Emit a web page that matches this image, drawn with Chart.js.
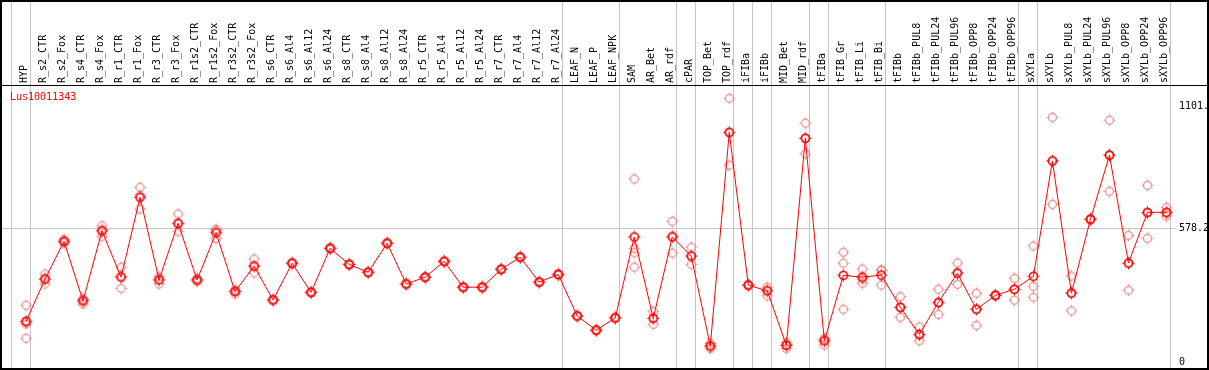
<!DOCTYPE html>
<html>
<head>
<meta charset="utf-8">
<script src="https://cdn.jsdelivr.net/npm/chart.js@4/dist/chart.umd.min.js"></script>
<style>
  html, body { margin: 0; padding: 0; background: #fff; }
  #chart { display: block; }
</style>
</head>
<body>
<canvas id="chart" width="1209" height="370"></canvas>
<script>
const categories = [
  'HYP', 'R_s2_CTR', 'R_s2_Fox', 'R_s4_CTR', 'R_s4_Fox', 'R_r1_CTR', 'R_r1_Fox', 'R_r3_CTR', 'R_r3_Fox',
  'R_r1s2_CTR', 'R_r1s2_Fox', 'R_r3s2_CTR', 'R_r3s2_Fox', 'R_s6_CTR', 'R_s6_Al4', 'R_s6_Al12', 'R_s6_Al24',
  'R_s8_CTR', 'R_s8_Al4', 'R_s8_Al12', 'R_s8_Al24', 'R_r5_CTR', 'R_r5_Al4', 'R_r5_Al12', 'R_r5_Al24',
  'R_r7_CTR', 'R_r7_Al4', 'R_r7_Al12', 'R_r7_Al24', 'LEAF_N', 'LEAF_P', 'LEAF_NPK', 'SAM', 'AR_Bet', 'AR_rdf',
  'cPAR', 'TOP_Bet', 'TOP_rdf', 'iFIBa', 'iFIBb', 'MID_Bet', 'MID_rdf', 'tFIBa', 'tFIB_Gr', 'tFIB_Li', 'tFIB_Bi',
  'tFIBb', 'tFIBb_PUL8', 'tFIBb_PUL24', 'tFIBb_PUL96', 'tFIBb_OPP8', 'tFIBb_OPP24', 'tFIBb_OPP96',
  'sXYLa', 'sXYLb', 'sXYLb_PUL8', 'sXYLb_PUL24', 'sXYLb_PUL96', 'sXYLb_OPP8', 'sXYLb_OPP24', 'sXYLb_OPP96'
];

// mean expression per sample
const means = [
  177, 360, 522, 266, 567, 368, 711, 356, 600, 356, 559, 306, 416, 270, 428, 303, 492, 423, 389, 514,
  339, 368, 436, 325, 325, 402, 454, 347, 380, 201, 140, 193, 541, 191, 541, 459, 72, 991, 334, 309,
  75, 965, 94, 376, 368, 377, 239, 122, 260, 385, 230, 290, 316, 372, 868, 299, 617, 892, 429, 647, 647
];

// individual replicates per sample
const replicates = [
  [247, 180, 167, 105], [382, 360, 339], [530, 522, 514], [275, 270, 253], [589, 570, 542],
  [411, 373, 320], [754, 720, 661], [370, 359, 339], [640, 596, 564], [362, 356, 350],
  [574, 568, 535], [314, 308, 296], [446, 415, 387], [273, 270, 267], [431, 428, 425],
  [306, 303, 300], [495, 492, 489], [426, 423, 420], [392, 389, 386], [517, 514, 511],
  [342, 339, 336], [371, 368, 365], [439, 436, 433], [328, 325, 322], [328, 325, 322],
  [405, 402, 399], [457, 454, 451], [350, 347, 344], [383, 380, 377], [204, 201, 198],
  [143, 140, 137], [196, 193, 190], [790, 492, 473, 411], [220, 191, 165], [608, 545, 471],
  [497, 459, 423], [84, 72, 61], [1137, 988, 849], [337, 334, 331], [325, 313, 288],
  [86, 78, 61], [1030, 967, 898], [105, 100, 77], [475, 428, 230], [403, 359, 342],
  [399, 397, 334], [284, 237, 196], [154, 117, 95], [316, 256, 208], [429, 389, 337],
  [299, 231, 160], [293, 290, 287], [363, 316, 269], [502, 329, 282], [1055, 868, 681],
  [373, 301, 223], [620, 617, 614], [1043, 896, 737], [548, 427, 312], [763, 643, 535],
  [667, 643, 631]
];

const yTickValues = [0, 578.2, 1101];
const yTickLabels = ['0', '578.2', '1101.'];
// group separators are drawn right after these sample indices
const separatorsAfter = [-1, 0, 28, 31, 34, 35, 37, 38, 39, 41, 42, 45, 52, 53, 60];
const geneName = 'Lus10011343';

const MONO = '"DejaVu Sans Mono", monospace';

function makeMarker(color, lw) {
  const c = document.createElement('canvas');
  c.width = 15; c.height = 15;
  const g = c.getContext('2d');
  g.strokeStyle = color;
  g.lineWidth = lw;
  g.beginPath();
  g.arc(7.5, 7.5, 4, 0, Math.PI * 2);
  g.stroke();
  g.lineWidth = 1;
  g.beginPath();
  g.moveTo(7.5, 1.5); g.lineTo(7.5, 3.5);
  g.moveTo(7.5, 11.5); g.lineTo(7.5, 13.5);
  g.moveTo(1.5, 7.5); g.lineTo(3.5, 7.5);
  g.moveTo(11.5, 7.5); g.lineTo(13.5, 7.5);
  g.stroke();
  return c;
}

const meanMarker = makeMarker('#ff0000', 1.6);
const repMarker = makeMarker('rgba(232,120,120,0.75)', 1.4);

const meanPoints = means.map((v, i) => ({ x: i, y: v }));
const repPoints = [];
replicates.forEach((list, i) => list.forEach(v => repPoints.push({ x: i, y: v })));

// no automatic label padding, the layout is fixed
function noPadding(s) {
  s.paddingLeft = 0;
  s.paddingRight = 0;
  s.paddingTop = 0;
  s.paddingBottom = 0;
}

const framePlugin = {
  id: 'frame',
  beforeDatasetsDraw(chart) {
    const ctx = chart.ctx;
    const xs = chart.scales.x;
    ctx.save();
    ctx.strokeStyle = '#c4c4c4';
    ctx.lineWidth = 1;
    separatorsAfter.forEach(i => {
      const px = Math.round(xs.getPixelForValue(i) + 4) + 0.5;
      ctx.beginPath();
      ctx.moveTo(px, 0);
      ctx.lineTo(px, 369);
      ctx.stroke();
    });
    ctx.restore();
  },
  afterDraw(chart) {
    const ctx = chart.ctx;
    ctx.save();
    ctx.strokeStyle = '#000';
    ctx.lineWidth = 1;
    ctx.beginPath();
    ctx.moveTo(0, 85.5);
    ctx.lineTo(1209, 85.5);
    ctx.stroke();
    ctx.lineWidth = 2;
    ctx.strokeRect(1, 1, 1207, 368);
    ctx.fillStyle = '#ff0000';
    ctx.font = '10px ' + MONO;
    ctx.textBaseline = 'middle';
    ctx.textAlign = 'left';
    ctx.fillText(geneName, 10, 97);
    ctx.restore();
  }
};

new Chart(document.getElementById('chart'), {
  type: 'line',
  data: {
    datasets: [
      {
        label: 'mean',
        data: meanPoints,
        borderColor: '#ff0000',
        borderWidth: 1,
        pointStyle: meanMarker,
        pointRadius: 5,
        tension: 0,
        order: 0
      },
      {
        label: 'replicates',
        data: repPoints,
        showLine: false,
        pointStyle: repMarker,
        pointRadius: 5,
        order: 1
      }
    ]
  },
  options: {
    responsive: false,
    animation: false,
    layout: { autoPadding: false, padding: { left: 1, right: 0, top: 0, bottom: 1 } },
    plugins: { legend: { display: false }, tooltip: { enabled: false } },
    scales: {
      x: {
        type: 'linear',
        position: 'top',
        min: -1.3153,
        max: 60.501,
        afterBuildTicks: s => { s.ticks = categories.map((_, i) => ({ value: i })); },
        afterFit: s => { s.height = 85; noPadding(s); },
        grid: { display: false, drawTicks: false },
        border: { display: false },
        ticks: {
          autoSkip: false,
          minRotation: 90,
          maxRotation: 90,
          padding: 2,
          labelOffset: 10,
          color: '#000',
          font: { family: MONO, size: 10 },
          callback: v => categories[v]
        }
      },
      y: {
        type: 'linear',
        position: 'right',
        min: -26.7,
        max: 1194.3,
        afterBuildTicks: s => { s.ticks = yTickValues.map(v => ({ value: v })); },
        afterFit: s => { s.width = 33; noPadding(s); },
        border: { display: false },
        grid: {
          drawTicks: false,
          color: c => (c.tick && c.tick.value === 578.2 ? '#c4c4c4' : 'rgba(0,0,0,0)')
        },
        ticks: {
          padding: 3,
          color: '#000',
          font: { family: MONO, size: 10 },
          callback: v => yTickLabels[yTickValues.indexOf(v)]
        }
      }
    }
  },
  plugins: [framePlugin]
});
</script>
</body>
</html>
